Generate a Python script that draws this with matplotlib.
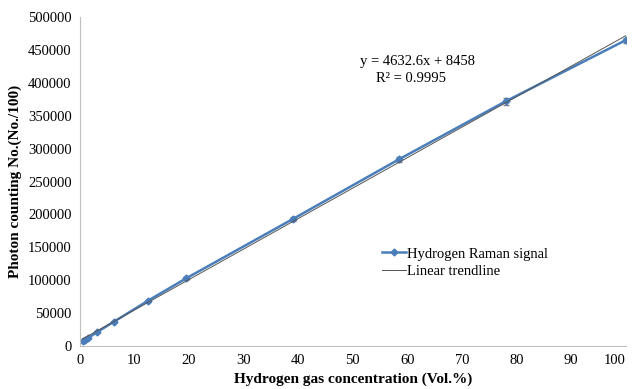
import matplotlib.pyplot as plt
from matplotlib.lines import Line2D
import numpy as np

plt.rcParams["font.family"] = "Liberation Serif"

conc = [0.5, 1.0, 1.5, 3.125, 6.25, 12.5, 19.5, 39, 58.5, 78, 100]
signal = [7500, 9500, 12000, 21000, 37000, 69000, 103000, 193000, 284000, 372000, 465000]
err = [800, 800, 800, 1000, 1200, 1500, 2000, 3000, 4000, 5000, 4000]

slope, intercept = 4632.6, 8458

fig = plt.figure(figsize=(6.34, 3.89), dpi=100)
ax = fig.add_axes([0.126, 0.1105, 0.861, 0.8455])

xs = np.array([conc[0], conc[-1]])
ax.errorbar(conc, signal, yerr=err, color="#4a7ebb", marker="D", markersize=3.5,
            linewidth=1.8, ecolor="#808080", elinewidth=0.8, capsize=2, zorder=2)
ax.plot(xs, slope * xs + intercept, color="#555555", linewidth=0.7, zorder=3)

ax.set_xlim(0, 100)
ax.set_ylim(0, 500000)
ax.set_xticks(np.arange(0, 101, 10))
ax.set_yticks(np.arange(0, 500001, 50000))
ax.tick_params(length=0, labelsize=10.5, pad=6)
ax.xaxis.get_majorticklabels()[-1].set_horizontalalignment("right")
for s in ["top", "right"]:
    ax.spines[s].set_visible(False)
for s in ["left", "bottom"]:
    ax.spines[s].set_color("#bfbfbf")

ax.set_xlabel("Hydrogen gas concentration (Vol.%)", fontsize=11, fontweight="bold", labelpad=4)
ax.set_ylabel("Photon counting No.(No./100)", fontsize=11, fontweight="bold", labelpad=4)

fig.text(360 / 634, 1 - 62 / 389, "y = 4632.6x + 8458", fontsize=10.5, va="center")
fig.text(376 / 634, 1 - 78 / 389, "R² = 0.9995", fontsize=10.5, va="center")

handles = [
    Line2D([], [], color="#4a7ebb", marker="D", markersize=3.5, linewidth=1.8),
    Line2D([], [], color="#555555", linewidth=0.7),
]
ax.legend(handles, ["Hydrogen Raman signal", "Linear trendline"], loc="upper left",
          bbox_to_anchor=(0.53, 0.34), frameon=False, fontsize=10.5,
          handlelength=1.6, handletextpad=0.1, labelspacing=0.3)

fig.savefig("out.png")
